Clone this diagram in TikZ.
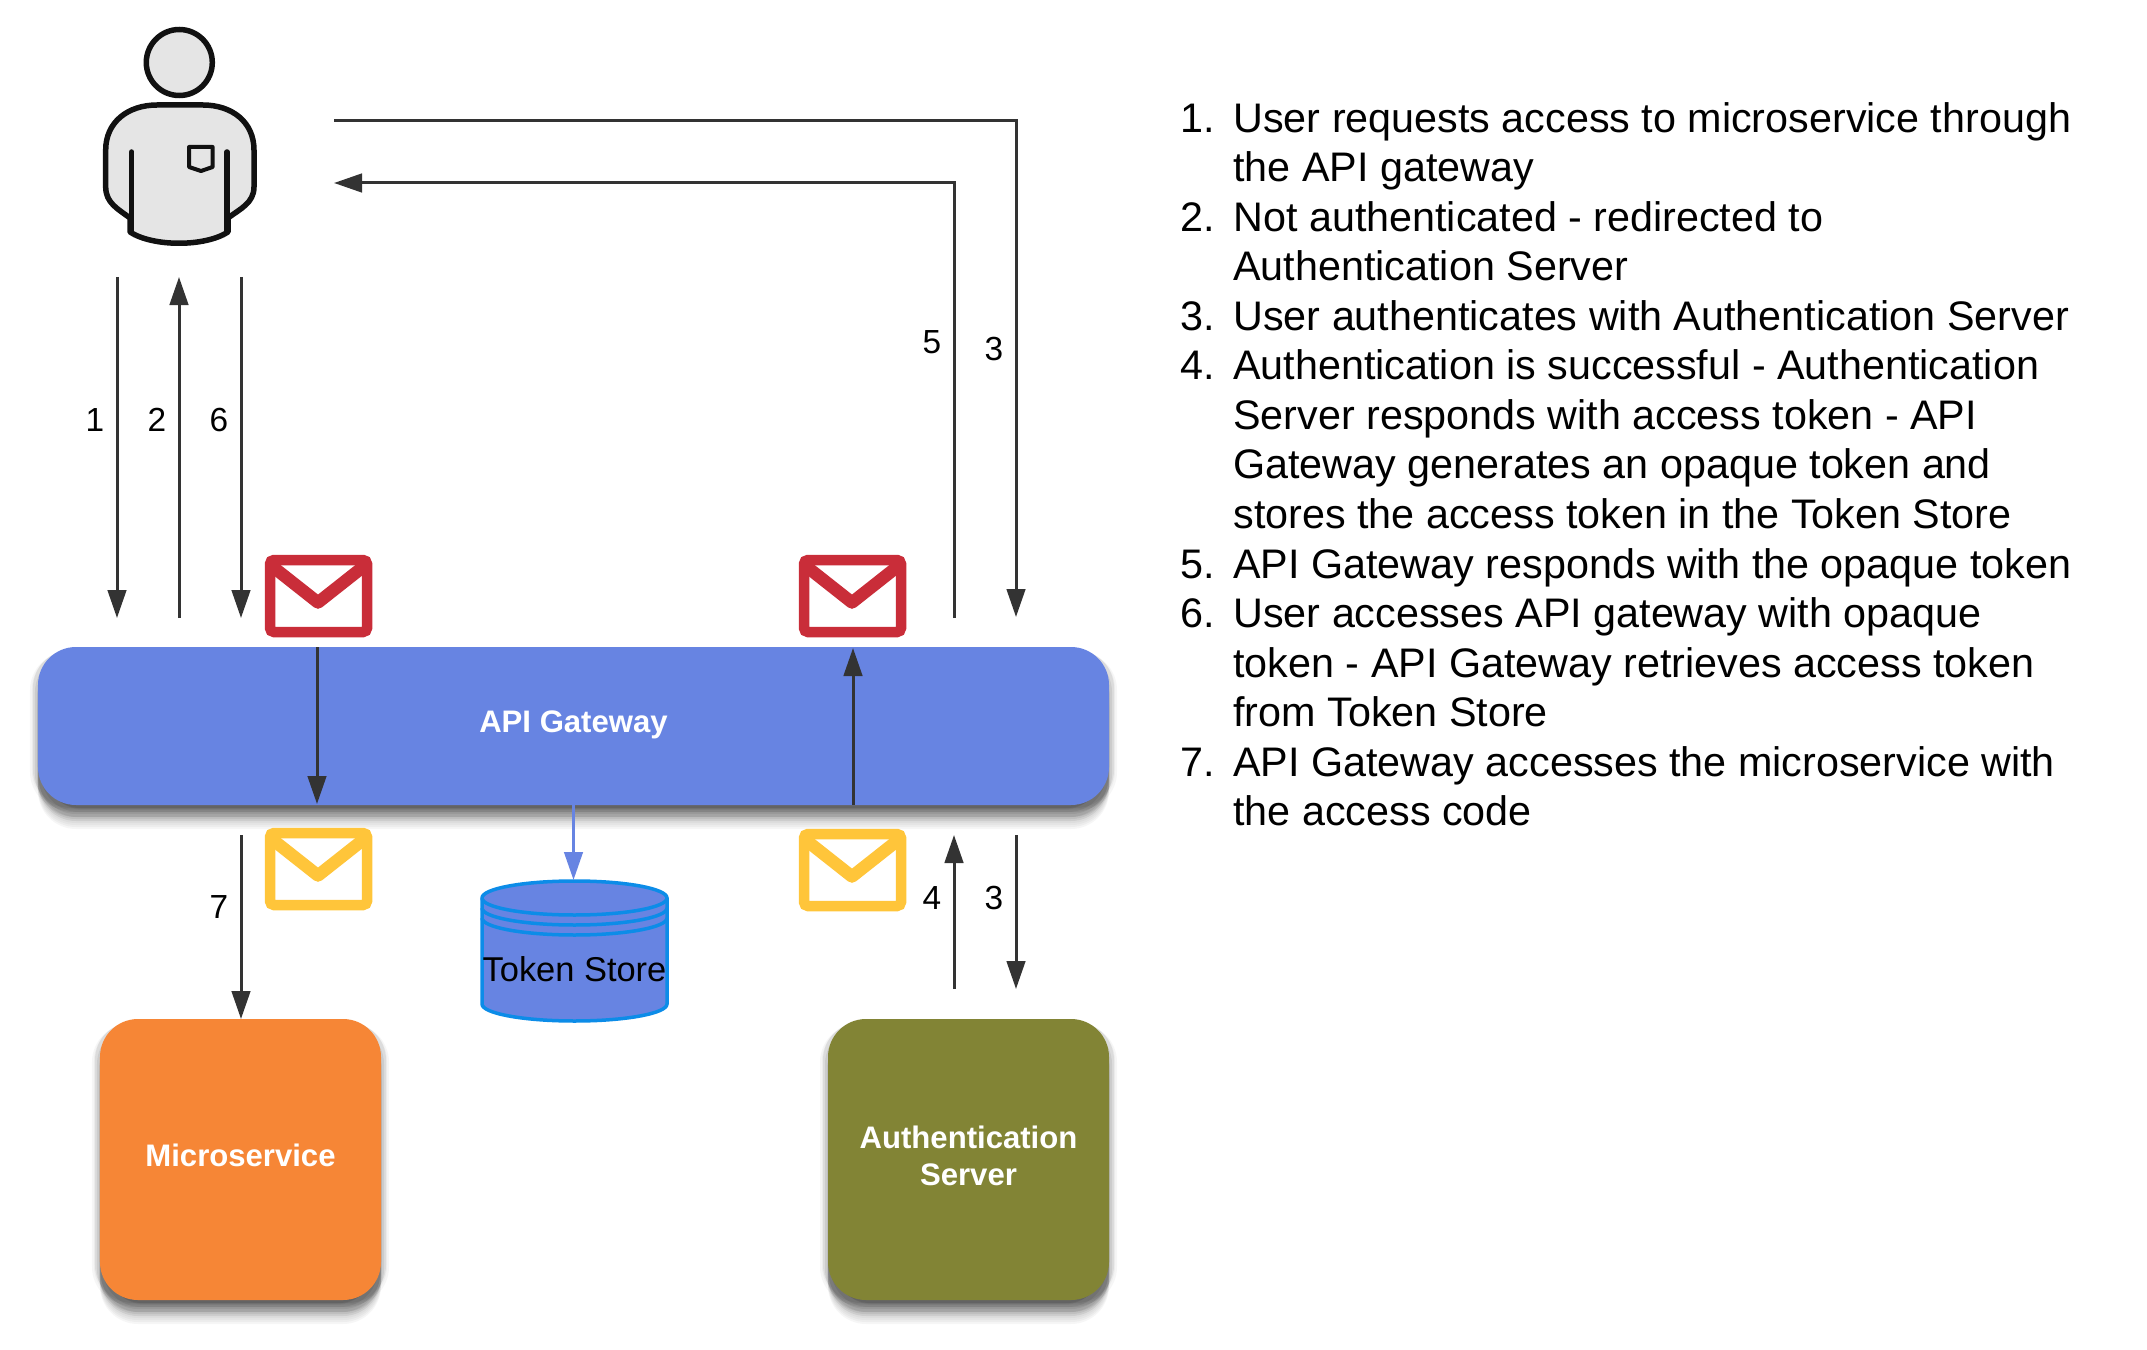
\documentclass[tikz,border=0pt]{standalone}
\usepackage{fontspec}
\setmainfont{Liberation Sans}
\usetikzlibrary{arrows.meta}
\definecolor{gatewayblue}{HTML}{6784E2}
\definecolor{storeline}{HTML}{0C8CE8}
\definecolor{serviceorange}{HTML}{F68636}
\definecolor{authgreen}{HTML}{828435}
\definecolor{mailred}{HTML}{C92D39}
\definecolor{mailyellow}{HTML}{FFC53A}
\definecolor{arrowgrey}{HTML}{333333}
\definecolor{personfill}{HTML}{E5E5E5}
\definecolor{personline}{HTML}{111111}
\tikzset{
    shadowlayer/.style={preaction={fill=black, fill opacity=.07, transform canvas={shift={(#1)}}}},
    faintlayer/.style={preaction={fill=black, fill opacity=.035, transform canvas={shift={(#1)}}}},
    softshadow/.style={faintlayer={0,24}, faintlayer={0,22}, faintlayer={0,20}, faintlayer={0,18},
        faintlayer={-6,4}, faintlayer={6,4}, faintlayer={-8,5}, faintlayer={8,5},
        shadowlayer={0,16}, shadowlayer={0,14}, shadowlayer={-1,12}, shadowlayer={1,12},
        shadowlayer={0,9}, shadowlayer={-3,7}, shadowlayer={3,7}, shadowlayer={-5,3}, shadowlayer={5,3}},
    service/.style={softshadow, fill=#1, rounded corners=7.6mm, text=white, align=center,
        font=\fontsize{17.7}{21}\selectfont\bfseries, inner sep=0pt},
    flow/.style={draw=arrowgrey, line width=.6mm, -{Triangle[length=5.6mm,width=3.7mm]}},
    numlabel/.style={inner sep=0pt, font=\fontsize{19}{21}\selectfont},
    envelope/.pic={
        \draw[pic actions, fill=white, line width=2.1mm, rounded corners=.8mm] (5,5) rectangle (102,77);
        \draw[pic actions, line width=2.5mm, line join=round] (5,9.6) -- (53,47.5) -- (101,9.6);
    }
}
\begin{document}
\begin{tikzpicture}[x=.2mm, y=-.2mm]
    \useasboundingbox (0,0) rectangle (2147,1350);

    % Person
    \draw[personline, fill=personfill, line width=1.1mm] (179.3,62.5) circle (33);
    \draw[personline, fill=personfill, line width=1.1mm, line join=round]
        (130,218) .. controls (118,209) and (105.7,203) .. (105.7,187) -- (105.7,150)
        .. controls (105.7,122) and (128,105) .. (157,105) -- (203,105)
        .. controls (232,105) and (254,122) .. (254,150) -- (254,187)
        .. controls (254,203) and (240,209) .. (228,218) -- (228,232)
        .. controls (205,247) and (153,247) .. (130,232) -- cycle;
    \draw[personline, line width=1.1mm, line cap=round] (131.7,152) -- (131.7,232);
    \draw[personline, line width=1.1mm, line cap=round] (227,152) -- (227,232);
    \draw[personline, line width=.8mm, line join=round]
        (189,147) -- (212.7,147) -- (212.7,167) -- (201,171) -- (189,167) -- cycle;

    % Boxes
    \node[service=gatewayblue, minimum width=214.2mm, minimum height=31.6mm, text depth=1.9mm] (gateway) at (573.5,726) {API Gateway};
    \node[service=serviceorange, minimum width=56.2mm, minimum height=56.2mm, text depth=1.6mm] (microservice) at (240.5,1159.5) {Microservice};
    \node[service=authgreen, minimum width=56.2mm, minimum height=56.2mm, text depth=1.6mm] (authserver) at (968.5,1159.5) {Authentication\\Server};

    % Envelopes
    \pic[draw=mailred] at (265,555) {envelope};
    \pic[draw=mailred] at (799,555) {envelope};
    \pic[draw=mailyellow] at (265,828) {envelope};
    \pic[draw=mailyellow] at (799,829) {envelope};

    % Token store
    \draw[storeline, fill=gatewayblue, line width=.7mm]
        (482,898) arc[start angle=180, end angle=360, x radius=92.5, y radius=17] -- (667,1004)
        arc[start angle=0, end angle=180, x radius=92.5, y radius=17] -- cycle;
    \draw[storeline, line width=.7mm] (482,898) arc[start angle=180, end angle=0, x radius=92.5, y radius=17];
    \draw[storeline, line width=.7mm] (482,908) arc[start angle=180, end angle=0, x radius=92.5, y radius=17];
    \draw[storeline, line width=.7mm] (482,918) arc[start angle=180, end angle=0, x radius=92.5, y radius=17];
    \node[font=\fontsize{19.6}{21}\selectfont, inner sep=0pt] (store) at (574.5,969) {Token Store};

    % End points of the arrows
    \coordinate (userA) at (117,277);
    \coordinate (userB) at (179,277);
    \coordinate (userC) at (241,277);
    \coordinate (gateA) at (117,618);
    \coordinate (gateB) at (179,618);
    \coordinate (gateC) at (241,618);
    \coordinate (redOut) at (317,647);
    \coordinate (redIn) at (317,804);
    \coordinate (yellowOut) at (853,805);
    \coordinate (yellowIn) at (853,648);
    \coordinate (serviceFrom) at (241,835);
    \coordinate (serviceTo) at (241,1019);
    \coordinate (storeTop) at (573.5,880);
    \coordinate (authUp) at (954,989);
    \coordinate (gateUp) at (954,835);
    \coordinate (gateDown) at (1016,835);
    \coordinate (authDown) at (1016,989);
    \coordinate (userOut) at (334,121);
    \coordinate (cornerOut) at (1016,121);
    \coordinate (loginEnd) at (1016,617);
    \coordinate (tokenStart) at (954,618);
    \coordinate (cornerIn) at (954,183);
    \coordinate (userIn) at (334,183);

    % Arrows
    \draw[flow] (userA) -- (gateA);
    \draw[flow] (gateB) -- (userB);
    \draw[flow] (userC) -- (gateC);
    \draw[flow] (redOut) -- (redIn);
    \draw[flow] (yellowOut) -- (yellowIn);
    \draw[flow] (serviceFrom) -- (serviceTo);
    \draw[flow, draw=gatewayblue] (gateway.south) -- (storeTop);
    \draw[flow] (authUp) -- (gateUp);
    \draw[flow] (gateDown) -- (authDown);
    \draw[flow] (userOut) -- (cornerOut) -- (loginEnd);
    \draw[flow] (tokenStart) -- (cornerIn) -- (userIn);

    % Arrow numbers
    \node[numlabel] (numA) at (95,420) {1};
    \node[numlabel] (numB) at (157,420) {2};
    \node[numlabel] (numC) at (219,420) {6};
    \node[numlabel] (numD) at (932,342) {5};
    \node[numlabel] (numE) at (994,349) {3};
    \node[numlabel] (numF) at (219,907) {7};
    \node[numlabel] (numG) at (932,898) {4};
    \node[numlabel] (numH) at (994,898) {3};

    % Steps
    \node[anchor=north west, inner sep=0pt, font=\fontsize{23.5}{28.2}\selectfont] (steps) at (1180,97) {%
        \begin{tabular}{@{}p{10.6mm}@{}l@{}}
        1. & User requests access to microservice through\\
           & the API gateway\\
        2. & Not authenticated - redirected to\\
           & Authentication Server\\
        3. & User authenticates with Authentication Server\\
        4. & Authentication is successful - Authentication\\
           & Server responds with access token - API\\
           & Gateway generates an opaque token and\\
           & stores the access token in the Token Store\\
        5. & API Gateway responds with the opaque token\\
        6. & User accesses API gateway with opaque\\
           & token - API Gateway retrieves access token\\
           & from Token Store\\
        7. & API Gateway accesses the microservice with\\
           & the access code
        \end{tabular}};
\end{tikzpicture}
\end{document}
